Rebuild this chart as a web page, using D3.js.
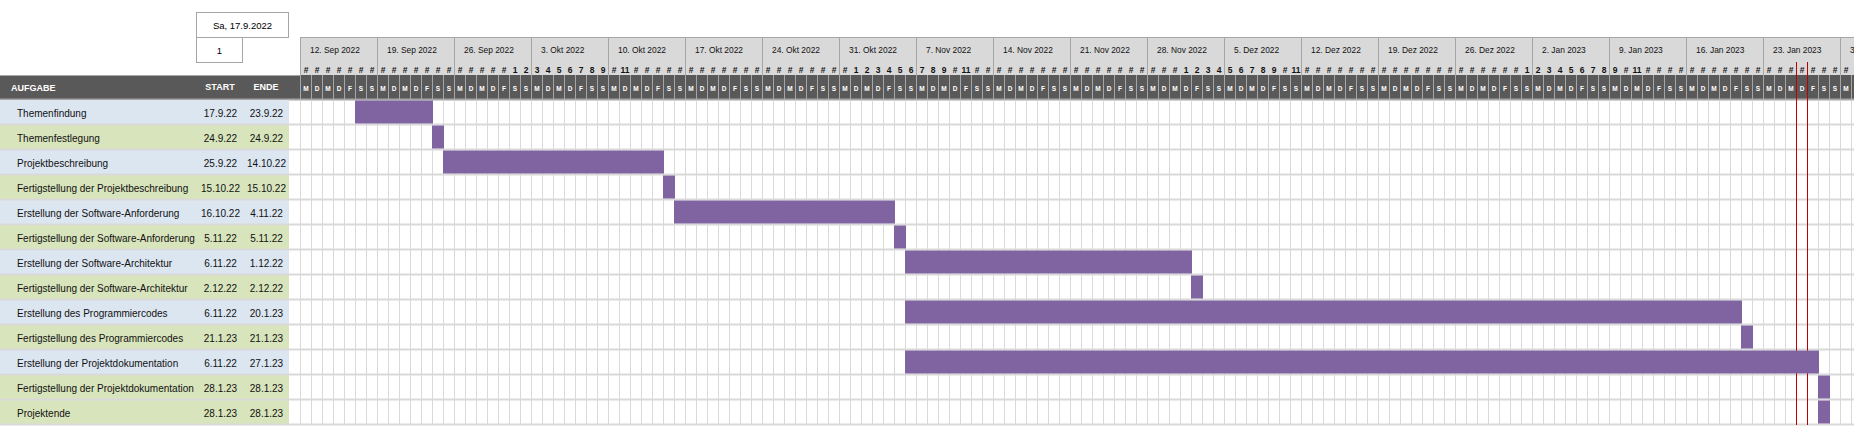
<!DOCTYPE html>
<html>
<head>
<meta charset="utf-8">
<script src="https://cdn.jsdelivr.net/npm/d3@7"></script>
<style>
  html, body { margin: 0; padding: 0; background: #fff; }
  svg { display: block; }
  text { font-family: "Liberation Sans", Arial, sans-serif; }
</style>
</head>
<body>
<svg id="chart" width="1854" height="434"></svg>
<script>
// ---------------- data ----------------
const tasks = [
  "Themenfindung",
  "Themenfestlegung",
  "Projektbeschreibung",
  "Fertigstellung der Projektbeschreibung",
  "Erstellung der Software-Anforderung",
  "Fertigstellung der Software-Anforderung",
  "Erstellung der Software-Architektur",
  "Fertigstellung der Software-Architektur",
  "Erstellung des Programmiercodes",
  "Fertigstellung des Programmiercodes",
  "Erstellung der Projektdokumentation",
  "Fertigstellung der Projektdokumentation",
  "Projektende"
];
const starts = ["2022-09-17","2022-09-24","2022-09-25","2022-10-15","2022-10-16","2022-11-05",
                "2022-11-06","2022-12-02","2022-11-06","2023-01-21","2022-11-06","2023-01-28","2023-01-28"];
const ends   = ["2022-09-23","2022-09-24","2022-10-14","2022-10-15","2022-11-04","2022-11-05",
                "2022-12-01","2022-12-02","2023-01-20","2023-01-21","2023-01-27","2023-01-28","2023-01-28"];
const rowTypes = ["phase","milestone","phase","milestone","phase","milestone",
                  "phase","milestone","phase","milestone","phase","milestone","milestone"];
const weekLabels = ["12. Sep 2022","19. Sep 2022","26. Sep 2022","3. Okt 2022","10. Okt 2022",
  "17. Okt 2022","24. Okt 2022","31. Okt 2022","7. Nov 2022","14. Nov 2022","21. Nov 2022",
  "28. Nov 2022","5. Dez 2022","12. Dez 2022","19. Dez 2022","26. Dez 2022","2. Jan 2023",
  "9. Jan 2023","16. Jan 2023","23. Jan 2023","30. Jan 2023"];
const dayLetters = ["M","D","M","D","F","S","S"];
const projectStartLabel = "Sa, 17.9.2022";
const displayWeek = "1";
const today = "2023-01-26";
const domainStart = "2022-09-12";
const domainEnd = "2023-02-01";

// ---------------- setup ----------------
const W = 1854, H = 434;
const parse = d3.utcParse("%Y-%m-%d");
const fmt = d3.utcFormat("%-d.%-m.%y");
const svg = d3.select("#chart");

const d0 = parse(domainStart), d1 = parse(domainEnd);
const nDays = d3.utcDay.count(d0, d1);
const gx = 300, dayW = 11;
const x = d3.scaleUtc().domain([d0, d1]).range([gx, gx + nDays * dayW]);
const y = d3.scaleBand().domain(tasks).range([100, 425]);

const C = {
  dark: "#595959", border: "#a6a6a6", grid: "#d9d9d9", head: "#d9d9d9",
  phase: "#dce6f1", milestone: "#d8e4bc", bar: "#8064a2", today: "#c00000"
};

const days = d3.utcDay.range(d0, d1);
const visDays = days.filter(d => x(d) + dayW / 2 + 3 < W);
const weeks = d3.utcMonday.range(d0, d1);

// ---------------- top boxes ----------------
svg.append("rect").attr("x", 196.5).attr("y", 12.5).attr("width", 92).attr("height", 25)
  .attr("fill", "#fff").attr("stroke", C.border);
svg.append("rect").attr("x", 196.5).attr("y", 37.5).attr("width", 46).attr("height", 25)
  .attr("fill", "#fff").attr("stroke", C.border);
svg.append("text").attr("x", 242.5).attr("y", 25).attr("text-anchor", "middle")
  .attr("dominant-baseline", "central").attr("font-size", 9.5).text(projectStartLabel);
svg.append("text").attr("x", 219.5).attr("y", 50).attr("text-anchor", "middle")
  .attr("dominant-baseline", "central").attr("font-size", 9.5).text(displayWeek);

// ---------------- week header ----------------
svg.append("rect").attr("x", gx).attr("y", 37).attr("width", W - gx).attr("height", 38).attr("fill", C.head);
svg.append("line").attr("x1", gx).attr("x2", W).attr("y1", 37.5).attr("y2", 37.5).attr("stroke", C.border);
svg.selectAll(".wsep").data(weeks).join("line")
  .attr("x1", d => x(d) + 0.5).attr("x2", d => x(d) + 0.5).attr("y1", 37).attr("y2", 75)
  .attr("stroke", C.border);
svg.selectAll(".wlab").data(weeks).join("text")
  .attr("x", d => x(d) + 10).attr("y", 50).attr("dominant-baseline", "central")
  .attr("font-size", 8.4).attr("fill", "#111").text((d, i) => weekLabels[i]);
// day numbers (Excel shows # when a two-digit number does not fit)
svg.selectAll(".dnum").data(visDays).join("text")
  .attr("x", d => x(d) + dayW / 2 + 0.5).attr("y", 69.5).attr("text-anchor", "middle")
  .attr("dominant-baseline", "central").attr("font-size", 8.5).attr("font-weight", "bold").attr("fill", "#111")
  .text(d => { const n = d.getUTCDate(); return (n < 10 || n === 11) ? String(n) : "#"; });

// ---------------- dark header row ----------------
svg.append("rect").attr("x", 0).attr("y", 75).attr("width", W).attr("height", 25).attr("fill", C.dark);
svg.append("line").attr("x1", 0).attr("x2", gx).attr("y1", 75.5).attr("y2", 75.5).attr("stroke", C.border);
svg.append("rect").attr("x", 0).attr("y", 98.5).attr("width", W).attr("height", 2).attr("fill", C.border);
svg.selectAll(".dsep").data(days).join("line")
  .attr("x1", d => x(d) + 0.5).attr("x2", d => x(d) + 0.5).attr("y1", 75).attr("y2", 99)
  .attr("stroke", C.border);
svg.selectAll(".dlet").data(visDays).join("text")
  .attr("x", d => x(d) + dayW / 2 + 0.5).attr("y", 88).attr("text-anchor", "middle")
  .attr("dominant-baseline", "central").attr("font-size", 6.5).attr("font-weight", "bold").attr("fill", "#fff")
  .text(d => dayLetters[(d.getUTCDay() + 6) % 7]);
svg.append("text").attr("x", 11).attr("y", 87.5).attr("dominant-baseline", "central")
  .attr("font-size", 9).attr("font-weight", "bold").attr("fill", "#fff").text("AUFGABE");
svg.append("text").attr("x", 220).attr("y", 87).attr("text-anchor", "middle").attr("dominant-baseline", "central")
  .attr("font-size", 9).attr("font-weight", "bold").attr("fill", "#fff").text("START");
svg.append("text").attr("x", 266).attr("y", 87).attr("text-anchor", "middle").attr("dominant-baseline", "central")
  .attr("font-size", 9).attr("font-weight", "bold").attr("fill", "#fff").text("ENDE");

// ---------------- left table ----------------
svg.append("defs").append("clipPath").attr("id", "taskclip")
  .append("rect").attr("x", 0).attr("y", 0).attr("width", 195).attr("height", H);
svg.selectAll(".rowbg").data(tasks).join("rect")
  .attr("x", 0).attr("y", d => y(d)).attr("width", 289).attr("height", y.bandwidth())
  .attr("fill", (d, i) => C[rowTypes[i]]);
svg.append("g").attr("clip-path", "url(#taskclip)").selectAll("text").data(tasks).join("text")
  .attr("x", 17).attr("y", d => y(d) + 13).attr("dominant-baseline", "central")
  .attr("font-size", 10).attr("fill", "#111").text(d => d);
svg.selectAll(".st").data(tasks).join("text")
  .attr("x", 220.5).attr("y", d => y(d) + 13).attr("text-anchor", "middle").attr("dominant-baseline", "central")
  .attr("font-size", 10).attr("fill", "#111").text((d, i) => fmt(parse(starts[i])));
svg.selectAll(".en").data(tasks).join("text")
  .attr("x", 266.5).attr("y", d => y(d) + 13).attr("text-anchor", "middle").attr("dominant-baseline", "central")
  .attr("font-size", 10).attr("fill", "#111").text((d, i) => fmt(parse(ends[i])));

// ---------------- grid ----------------
svg.selectAll(".vgrid").data(days).join("line")
  .attr("x1", d => x(d) + 0.5).attr("x2", d => x(d) + 0.5).attr("y1", 100).attr("y2", 425)
  .attr("stroke", C.grid);
svg.selectAll(".hsep").data(tasks).join("rect")
  .attr("x", 0).attr("y", d => y(d) + 23.5).attr("width", W).attr("height", 2).attr("fill", C.grid);

// ---------------- today marker ----------------
const t0 = parse(today), t1 = d3.utcDay.offset(t0, 1);
[t0, t1].forEach(t => {
  svg.append("line").attr("x1", x(t) + 0.5).attr("x2", x(t) + 0.5).attr("y1", 62).attr("y2", 425)
    .attr("stroke", C.today);
});

// ---------------- bars ----------------
svg.selectAll(".bar").data(tasks).join("rect")
  .attr("x", (d, i) => x(parse(starts[i])))
  .attr("width", (d, i) => x(d3.utcDay.offset(parse(ends[i]), 1)) - x(parse(starts[i])) + 1)
  .attr("y", d => y(d) + 0.5).attr("height", y.bandwidth() - 2)
  .attr("fill", C.bar);
</script>
</body>
</html>
